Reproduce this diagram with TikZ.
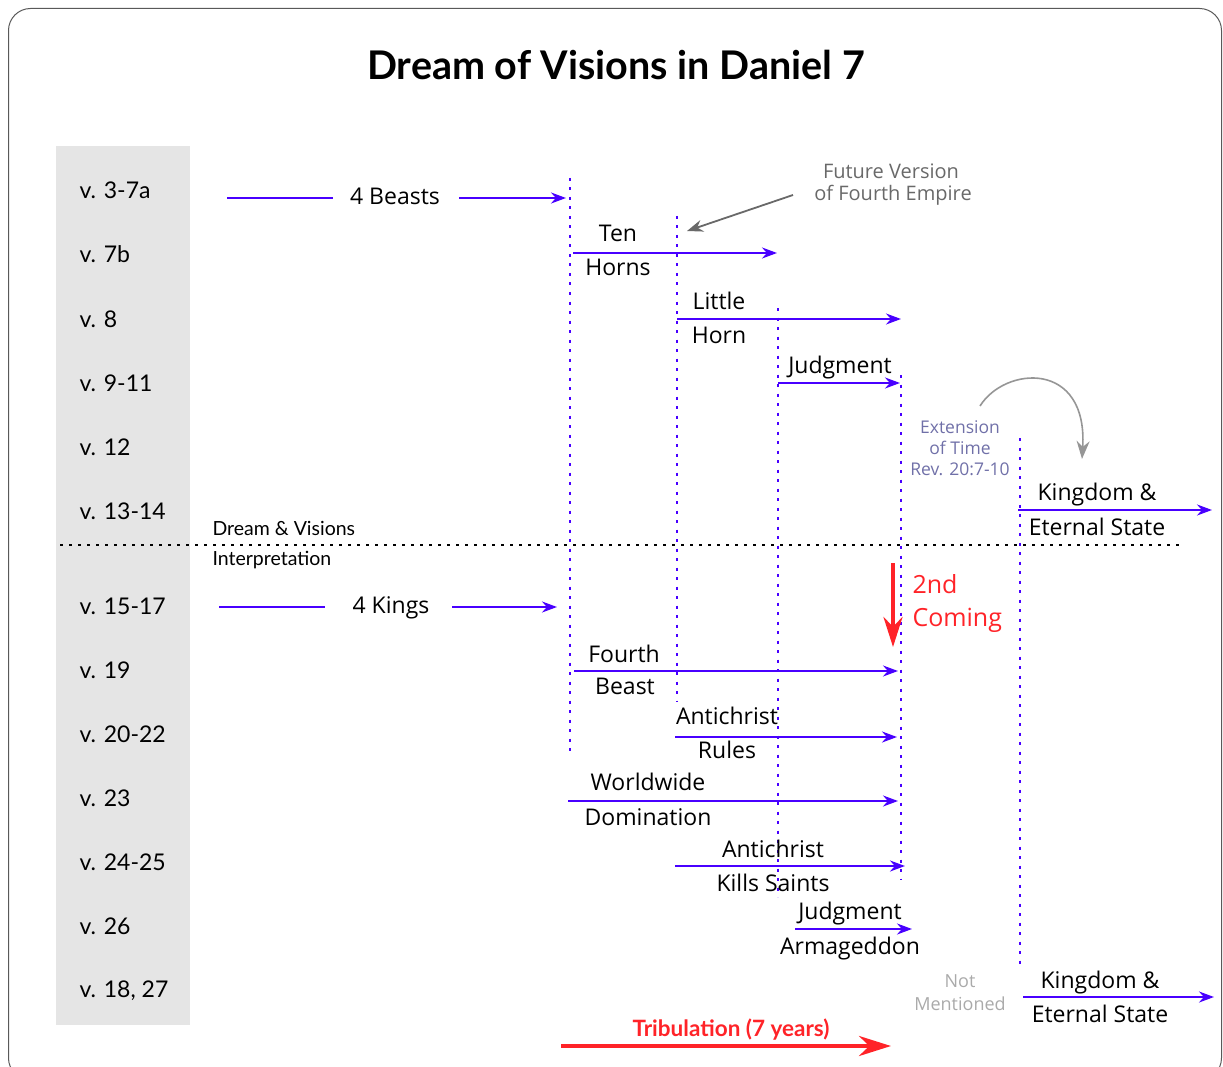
\documentclass[tikz,border=0pt]{standalone}
\usepackage{fontspec}
\setmainfont{Open Sans}
\newfontfamily\latofont{Lato}
\usetikzlibrary{arrows.meta}

\definecolor{vblue}{RGB}{72,0,255}
\definecolor{hotred}{RGB}{255,35,40}
\definecolor{colgray}{RGB}{229,229,229}
\definecolor{notegray}{RGB}{105,105,105}
\definecolor{curvegray}{RGB}{150,150,150}
\definecolor{extpurple}{RGB}{112,112,168}
\definecolor{faintgray}{RGB}{170,170,170}

\tikzset{
  frame/.style={draw=black!65,line width=1pt,rounded corners=22pt},
  flow/.style={vblue,line width=2pt,-{Stealth[length=15pt,width=11pt]}},
  stub/.style={vblue,line width=2pt},
  vline/.style={vblue,line width=2.2pt,dash pattern=on 3pt off 6.5pt},
  sepline/.style={black,line width=2pt,dash pattern=on 3pt off 6pt},
  hot/.style={hotred,line width=4.5pt,-{Stealth[length=32pt,width=20pt]}},
  lbl/.style={anchor=base,font=\fontsize{23}{27}\selectfont},
  verse/.style={anchor=base west,font=\latofont\fontsize{23}{27}\selectfont},
  dream/.style={anchor=base west,font=\latofont\fontsize{19.5}{23}\selectfont},
  note/.style={anchor=base,notegray,font=\fontsize{20}{24}\selectfont},
  ext/.style={anchor=base,extpurple,font=\fontsize{17.5}{21}\selectfont},
  faint/.style={anchor=base,faintgray,font=\fontsize{18}{21}\selectfont},
}

\begin{document}
\begin{tikzpicture}[x=1pt,y=-1pt]
  \useasboundingbox (0,0) rectangle (1223,1067);
  \draw[frame] (8.5,8.5) rectangle (1221.5,1080);
  \node[anchor=base,font=\latofont\bfseries\fontsize{39.5}{46}\selectfont] (title) at (616,80)
        {Dream of Visions in Daniel 7};

  % verse column
  \fill[colgray] (56,146) rectangle (190,1025);
  \node[verse] (v1)  at (76,199)  {v. 3-7a};
  \node[verse] (v2)  at (76,263)  {v. 7b};
  \node[verse] (v3)  at (76,327)  {v. 8};
  \node[verse] (v4)  at (76,391)  {v. 9-11};
  \node[verse] (v5)  at (76,455)  {v. 12};
  \node[verse] (v6)  at (76,519)  {v. 13-14};
  \node[verse] (v7)  at (76,614)  {v. 15-17};
  \node[verse] (v8)  at (76,678)  {v. 19};
  \node[verse] (v9)  at (76,742)  {v. 20-22};
  \node[verse] (v10) at (76,806)  {v. 23};
  \node[verse] (v11) at (76,870)  {v. 24-25};
  \node[verse] (v12) at (76,934)  {v. 26};
  \node[verse] (v13) at (76,997)  {v. 18, 27};

  % dream / interpretation split
  \coordinate (s0) at (60,545);
  \coordinate (s1) at (1180,545);
  \draw[sepline] (s0) -- (s1);
  \node[dream] (dv) at (209,535) {Dream \& Visions};
  \node[dream] (ip) at (209,565) {Interpretation};

  % vertical markers
  \coordinate (d1t) at (570,178);  \coordinate (d1b) at (570,757);
  \coordinate (d2t) at (677,216);  \coordinate (d2b) at (677,702);
  \coordinate (d3t) at (778,308);  \coordinate (d3b) at (778,897);
  \coordinate (d4t) at (901,375);  \coordinate (d4b) at (901,879);
  \coordinate (d5t) at (1020,438); \coordinate (d5b) at (1020,967);
  \draw[vline] (d1t) -- (d1b);
  \draw[vline] (d2t) -- (d2b);
  \draw[vline] (d3t) -- (d3b);
  \draw[vline] (d4t) -- (d4b);
  \draw[vline] (d5t) -- (d5b);

  % dream part
  \node[lbl] (beasts) at (395,205) {4 Beasts};
  \coordinate (bs0) at (227,198); \coordinate (bs1) at (333,198);
  \coordinate (bs2) at (459,198); \coordinate (bs3) at (566,198);
  \draw[stub] (bs0) -- (bs1);
  \draw[flow] (bs2) -- (bs3);

  \node[lbl] (ten)   at (618,242) {Ten};
  \node[lbl] (horns) at (618,276) {Horns};
  \coordinate (th0) at (573,253); \coordinate (th1) at (777,253);
  \draw[flow] (th0) -- (th1);

  \node[lbl] (little) at (719,309) {Little};
  \node[lbl] (horn)   at (719,343) {Horn};
  \coordinate (lh0) at (677,319); \coordinate (lh1) at (901,319);
  \draw[flow] (lh0) -- (lh1);

  \node[lbl] (judg1) at (840,373) {Judgment};
  \coordinate (jg0) at (778,383); \coordinate (jg1) at (900,383);
  \draw[flow] (jg0) -- (jg1);

  \node[lbl] (king1) at (1097,500) {Kingdom \&};
  \node[lbl] (etst1) at (1097,535) {Eternal State};
  \coordinate (kg0) at (1018,510); \coordinate (kg1) at (1212,510);
  \draw[flow] (kg0) -- (kg1);

  % notes
  \node[note] (fv1) at (891,179) {Future Version};
  \node[note] (fv2) at (893,201) {of Fourth Empire};
  \coordinate (fa0) at (793,195); \coordinate (fa1) at (687,231);
  \draw[notegray,line width=1.8pt,-{Stealth[length=16pt,width=12pt]}] (fa0) -- (fa1);

  \node[ext] (ex1) at (960,433) {Extension};
  \node[ext] (ex2) at (960,454) {of Time};
  \node[ext] (ex3) at (960,475) {Rev. 20:7-10};
  \coordinate (cv0) at (980,406); \coordinate (cv1) at (1082,459);
  \draw[curvegray,line width=1.6pt,-{Stealth[length=18pt,width=13pt]}]
        (cv0) .. controls (1005,366) and (1088,360) .. (cv1);

  % interpretation part
  \node[lbl] (kings) at (391,613) {4 Kings};
  \coordinate (ks0) at (219,607); \coordinate (ks1) at (325,607);
  \coordinate (ks2) at (452,607); \coordinate (ks3) at (557,607);
  \draw[stub] (ks0) -- (ks1);
  \draw[flow] (ks2) -- (ks3);

  \node[anchor=base west,hotred,font=\fontsize{25}{30}\selectfont] (snd) at (909,593) {2nd};
  \node[anchor=base west,hotred,font=\fontsize{25}{30}\selectfont] (com) at (909,626) {Coming};
  \coordinate (sc0) at (893,563); \coordinate (sc1) at (893,647);
  \draw[hotred,line width=4pt,-{Stealth[length=30pt,width=19pt]}] (sc0) -- (sc1);

  \node[lbl] (fourth) at (624,662) {Fourth};
  \node[lbl] (beast)  at (625,694) {Beast};
  \coordinate (fb0) at (574,671); \coordinate (fb1) at (898,671);
  \draw[flow] (fb0) -- (fb1);

  \node[lbl] (anti1) at (727,724) {Antichrist};
  \node[lbl] (rules) at (727,758) {Rules};
  \coordinate (ar0) at (675,737); \coordinate (ar1) at (897,737);
  \draw[flow] (ar0) -- (ar1);

  \node[lbl] (world) at (648,790) {Worldwide};
  \node[lbl] (domin) at (648,825) {Domination};
  \coordinate (wd0) at (568,801); \coordinate (wd1) at (898,801);
  \draw[flow] (wd0) -- (wd1);

  \node[lbl] (anti2) at (773,857) {Antichrist};
  \node[lbl] (kills) at (773,891) {Kills Saints};
  \coordinate (kl0) at (675,866); \coordinate (kl1) at (905,866);
  \draw[flow] (kl0) -- (kl1);

  \node[lbl] (judg2) at (850,919) {Judgment};
  \node[lbl] (armag) at (850,954) {Armageddon};
  \coordinate (ja0) at (795,929); \coordinate (ja1) at (912,929);
  \draw[flow] (ja0) -- (ja1);

  \node[faint] (nm1) at (960,987)  {Not};
  \node[faint] (nm2) at (960,1010) {Mentioned};

  \node[lbl] (king2) at (1100,988)  {Kingdom \&};
  \node[lbl] (etst2) at (1100,1022) {Eternal State};
  \coordinate (kh0) at (1023,997); \coordinate (kh1) at (1214,997);
  \draw[flow] (kh0) -- (kh1);

  \node[anchor=base,hotred,font=\latofont\bfseries\fontsize{22.5}{26}\selectfont] (trib) at (731,1036)
        {Tribulation (7 years)};
  \coordinate (tr0) at (561,1046); \coordinate (tr1) at (891,1046);
  \draw[hot] (tr0) -- (tr1);
\end{tikzpicture}
\end{document}
